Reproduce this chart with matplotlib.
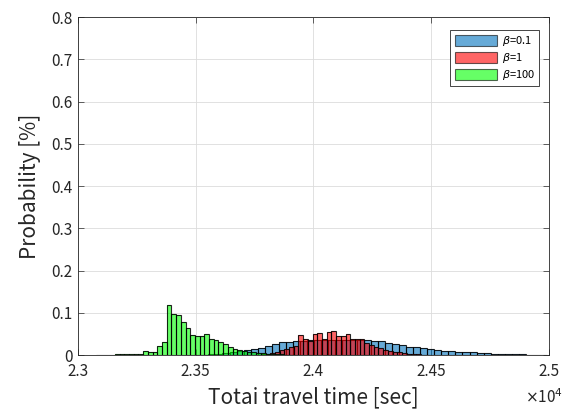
import numpy as np
import matplotlib
matplotlib.use("Agg")
import matplotlib.pyplot as plt
from matplotlib.patches import Patch
from matplotlib.ticker import FixedLocator, FixedFormatter

plt.rcParams['font.family'] = ['Noto Sans CJK JP', 'DejaVu Sans']
plt.rcParams['mathtext.fontset'] = 'dejavusans'

# bin layout (seconds)
blue_start, blue_step = 23494, 30
red_start, red_step = 23737, 20
green_start, green_step = 23077, 20

# probabilities per bin
blue_vals = [0.001, 0.001, 0.002, 0.003, 0.005, 0.007, 0.010, 0.013, 0.014, 0.017,
             0.021, 0.027, 0.030, 0.031, 0.033, 0.034, 0.035, 0.036, 0.036, 0.036,
             0.036, 0.036, 0.036, 0.036, 0.036, 0.034, 0.032, 0.029, 0.026, 0.024,
             0.020, 0.018, 0.016, 0.014, 0.013, 0.010, 0.009, 0.008, 0.006, 0.006,
             0.005, 0.004, 0.0025, 0.0025, 0.002, 0.002, 0.0015, 0.001, 0.001, 0.0005]
red_vals = [0.001, 0.001, 0.002, 0.003, 0.004, 0.006,
            0.011, 0.014, 0.019, 0.022, 0.048, 0.038, 0.034, 0.050, 0.051, 0.039,
            0.054, 0.056, 0.046, 0.046, 0.050, 0.039, 0.037, 0.038, 0.029, 0.024,
            0.019, 0.016, 0.013, 0.010, 0.007, 0.006, 0.004, 0.003, 0.002, 0.002,
            0.001, 0.001]
green_vals = [0.0008, 0.001, 0.001, 0.0012, 0.0015, 0.0015, 0.002, 0.002, 0.0025, 0.003,
              0.010, 0.007, 0.007, 0.022, 0.031, 0.119, 0.096, 0.094, 0.077, 0.065,
              0.047, 0.044, 0.044, 0.050, 0.038, 0.036, 0.030, 0.027, 0.020, 0.014,
              0.011, 0.009, 0.008, 0.006, 0.005, 0.004, 0.003, 0.003, 0.002, 0.002,
              0.001, 0.001]

labels = [r'$\beta$=0.1', r'$\beta$=1', r'$\beta$=100']
colors = [(0, 0.447, 0.741), (1, 0, 0), (0, 1, 0)]

xticks = [23000, 23500, 24000, 24500, 25000]
xticklabels = ['2.3', '2.35', '2.4', '2.45', '2.5']
yticks = [0, 0.1, 0.2, 0.3, 0.4, 0.5, 0.6, 0.7, 0.8]
yticklabels = ['0', '0.1', '0.2', '0.3', '0.4', '0.5', '0.6', '0.7', '0.8']

fig = plt.figure(figsize=(5.65, 4.09), dpi=100)
ax = fig.add_axes([0.138, 0.132, 0.833, 0.826])

series = [(blue_start, blue_step, blue_vals),
          (red_start, red_step, red_vals),
          (green_start, green_step, green_vals)]
for (start, step, vals), col in zip(series, colors):
    lefts = start + step * np.arange(len(vals))
    ax.bar(lefts, vals, width=step, align='edge', color=col, alpha=0.6,
           edgecolor='none')
    # opaque edges like matlab
    ax.bar(lefts, vals, width=step, align='edge', fill=False,
           edgecolor=(0, 0, 0, 0.85), linewidth=0.8)

ax.set_xlim(23000, 25000)
ax.set_ylim(0, 0.8)
ax.xaxis.set_major_locator(FixedLocator(xticks))
ax.xaxis.set_major_formatter(FixedFormatter(xticklabels))
ax.yaxis.set_major_locator(FixedLocator(yticks))
ax.yaxis.set_major_formatter(FixedFormatter(yticklabels))
ax.tick_params(direction='in', length=4, width=0.5, labelsize=11,
               colors='#262626', top=True, right=True)
ax.tick_params(axis='x', pad=6)
ax.tick_params(axis='y', pad=4)
for s in ax.spines.values():
    s.set_linewidth(0.6)
    s.set_color('#262626')
ax.grid(True, color='#dcdcdc', linewidth=0.6)
ax.set_axisbelow(True)

ax.set_xlabel('Totai travel time [sec]', fontsize=15, color='#262626', labelpad=4)
ax.set_ylabel('Probability [%]', fontsize=15, color='#262626', labelpad=7)
fig.text(0.963, 0.014, r'$\times$10$^4$', ha='center', va='baseline',
         fontsize=11, color='#262626')

handles = [Patch(facecolor=c, alpha=0.6, edgecolor='black', linewidth=0.8) for c in colors]
leg = ax.legend(handles, labels, loc='upper right', fontsize=8, fancybox=False,
                edgecolor='#262626', framealpha=1, handlelength=3.8, handleheight=1.1,
                borderpad=0.4, labelspacing=0.25, handletextpad=0.4,
                borderaxespad=0, bbox_to_anchor=(0.98, 0.962))
leg.get_frame().set_linewidth(0.6)

fig.savefig('out.png', dpi=100)
